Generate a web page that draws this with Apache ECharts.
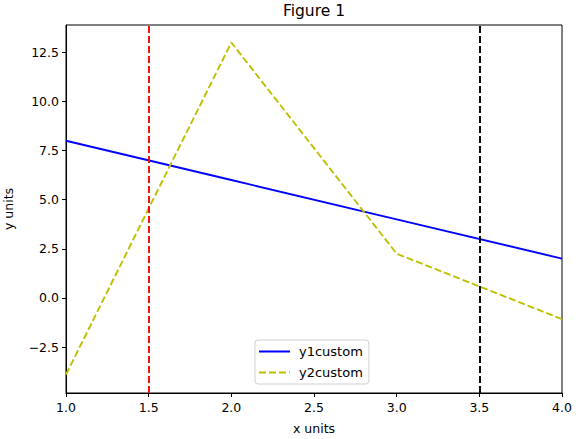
<!DOCTYPE html>
<html><head><meta charset="utf-8">
<script src="https://cdn.jsdelivr.net/npm/echarts@6/dist/echarts.min.js"></script>
<style>html,body{margin:0;padding:0;background:#fff}#c{width:586px;height:439px}</style>
</head><body><div id="c"></div>
<script>
const xValues = [1, 2, 3, 4];
const y1custom = [8, 6, 4, 2];
const y2custom = [-3.9, 13, 2.25, -1.08];
const vlineX = [1.5, 3.5];
const vlineColors = ['#ff0000', '#000000'];
const xTicks = [1.0, 1.5, 2.0, 2.5, 3.0, 3.5, 4.0];
const yTicks = [-2.5, 0.0, 2.5, 5.0, 7.5, 10.0, 12.5];

const font = 'DejaVu Sans';
const chart = echarts.init(document.getElementById('c'), null, {renderer: 'svg'});
const isTick = (v, list) => list.some(t => Math.abs(t - v) < 1e-6);
chart.setOption({
  animation: false,
  textStyle: {fontFamily: font},
  grid: {left: 66, right: 24, top: 25, bottom: 46, containLabel: false, outerBoundsMode: 'none',
    show: true, borderColor: '#000', borderWidth: 1, backgroundColor: 'transparent'},
  graphic: [
    {type: 'text', x: 314, y: 3, style: {text: 'Figure 1', fontFamily: font, fontSize: 15.5, fill: '#000', textAlign: 'center'}}
  ],
  legend: {
    left: 255, top: 340, orient: 'vertical',
    data: ['y1custom', 'y2custom'],
    itemWidth: 31, itemHeight: 10, itemGap: 8,
    itemStyle: {opacity: 0},
    backgroundColor: 'rgba(255,255,255,0.8)', borderColor: '#d0d0d0', borderWidth: 1, borderRadius: 3,
    padding: [5, 6, 5, 3],
    textStyle: {fontFamily: font, fontSize: 13, color: '#000', padding: [0, 0, 0, 4]}
  },
  xAxis: {
    type: 'value', min: 1, max: 4, interval: 0.5,
    name: 'x units', nameLocation: 'middle', nameGap: 29,
    nameTextStyle: {fontFamily: font, fontSize: 12.5, color: '#000'},
    axisLine: {show: true, onZero: false, lineStyle: {color: '#000', width: 1}},
    axisTick: {show: true, inside: false, length: 4, lineStyle: {color: '#000'}},
    axisLabel: {color: '#000', fontSize: 12.5, fontFamily: font, margin: 8,
      formatter: v => isTick(v, xTicks) ? v.toFixed(1) : ''},
    splitLine: {show: false}
  },
  yAxis: {
    type: 'value', min: -4.84, max: 13.89,
    name: 'y units', nameLocation: 'middle', nameGap: 51, nameRotate: 90,
    nameTextStyle: {fontFamily: font, fontSize: 12.5, color: '#000'},
    axisLine: {show: true, onZero: false, lineStyle: {color: '#000', width: 1}},
    axisTick: {show: true, inside: false, length: 4, lineStyle: {color: '#000'}, customValues: yTicks},
    axisLabel: {color: '#000', fontSize: 12.5, fontFamily: font, margin: 7, customValues: yTicks,
      formatter: v => (v < 0 ? '\u2212' + Math.abs(v).toFixed(1) : v.toFixed(1))},
    splitLine: {show: false}
  },
  series: [
    {
      name: 'y1custom', type: 'line', data: xValues.map((x, i) => [x, y1custom[i]]),
      symbol: 'none', color: '#0000ff', lineStyle: {color: '#0000ff', width: 1.9, type: 'solid'},
      markLine: {
        silent: true, symbol: 'none', label: {show: false},
        data: vlineX.map((x, i) => ({xAxis: x, lineStyle: {color: vlineColors[i], width: 1.9, type: [7, 3]}}))
      }
    },
    {
      name: 'y2custom', type: 'line', data: xValues.map((x, i) => [x, y2custom[i]]),
      symbol: 'none', color: '#bfbf00', lineStyle: {color: '#bfbf00', width: 1.9, type: [7, 3]}
    }
  ]
});
</script></body></html>
